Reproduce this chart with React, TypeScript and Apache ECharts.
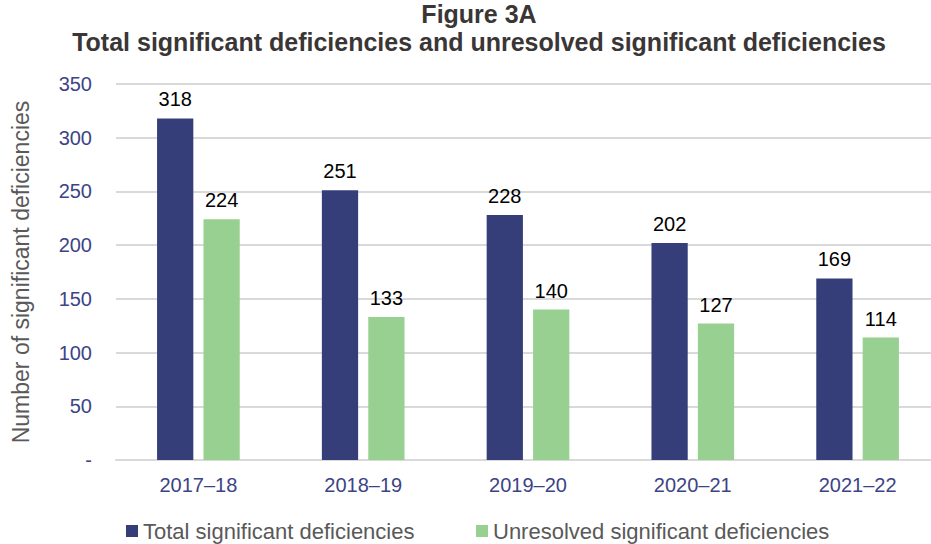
import React, { useEffect, useRef } from "react";
import * as echarts from "echarts";

const categories = ["2017–18", "2018–19", "2019–20", "2020–21", "2021–22"];
const totalSig = [318, 251, 228, 202, 169];
const unresolvedSig = [224, 133, 140, 127, 114];
const seriesNames = ["Total significant deficiencies", "Unresolved significant deficiencies"];
const titleLines = ["Figure 3A", "Total significant deficiencies and unresolved significant deficiencies"];
const yAxisName = "Number of significant deficiencies";

const FONT = "'Liberation Sans', Arial, sans-serif";
const AXIS_BLUE = "#3c4485";
const GREY_TEXT = "#595959";

export default function App() {
  const ref = useRef<HTMLDivElement>(null);
  useEffect(() => {
    if (!ref.current) return;
    const chart = echarts.init(ref.current, null, { renderer: "svg" });
    const legendText = { fontFamily: FONT, fontSize: 22, color: GREY_TEXT };
    chart.setOption({
      animation: false,
      backgroundColor: "#ffffff",
      textStyle: { fontFamily: FONT },
      title: {
        text: titleLines[0] + "\n" + titleLines[1],
        left: 479,
        top: 0,
        padding: 0,
        textAlign: "center",
        textStyle: {
          fontFamily: FONT,
          fontSize: 25,
          fontWeight: "bold",
          color: "#3a3636",
          lineHeight: 28,
        },
      },
      legend: [
        {
          top: 520,
          left: 126,
          padding: 0,
          itemWidth: 12,
          itemHeight: 12,
          icon: "rect",
          textStyle: legendText,
          data: [seriesNames[0]],
        },
        {
          top: 520,
          left: 476,
          padding: 0,
          itemWidth: 12,
          itemHeight: 12,
          icon: "rect",
          textStyle: legendText,
          data: [seriesNames[1]],
        },
      ],
      grid: { left: 116, top: 84, width: 824, bottom: 84, containLabel: false, outerBoundsMode: "none" },
      xAxis: {
        type: "category",
        data: categories,
        axisLine: { lineStyle: { color: "#d9d9d9", width: 2 } },
        axisTick: { show: false },
        axisLabel: { color: AXIS_BLUE, fontSize: 20, fontFamily: FONT, margin: 15 },
      },
      yAxis: {
        type: "value",
        min: 0,
        max: 350,
        interval: 50,
        name: yAxisName,
        nameLocation: "middle",
        nameGap: 84,
        nameTextStyle: { color: GREY_TEXT, fontSize: 23, fontFamily: FONT },
        axisLine: { show: false },
        axisTick: { show: false },
        splitLine: { lineStyle: { color: "#d9d9d9", width: 2 } },
        axisLabel: {
          color: AXIS_BLUE,
          fontSize: 20,
          fontFamily: FONT,
          margin: 24,
          formatter: (v: number) => (v === 0 ? "-" : String(v)),
        },
      },
      series: [
        {
          name: seriesNames[0],
          type: "bar",
          data: totalSig,
          barWidth: "22%",
          barGap: "28%",
          itemStyle: { color: "#363e7a" },
          label: { show: true, position: "top", distance: 9, color: "#000000", fontSize: 20, fontFamily: FONT },
        },
        {
          name: seriesNames[1],
          type: "bar",
          data: unresolvedSig,
          barWidth: "22%",
          itemStyle: { color: "#98d091" },
          label: { show: true, position: "top", distance: 9, color: "#000000", fontSize: 20, fontFamily: FONT },
        },
      ],
    });
    return () => chart.dispose();
  }, []);
  return (
    <div
      ref={ref}
      style={{ position: "fixed", left: 0, top: 0, width: 931, height: 544, background: "#fff" }}
    />
  );
}
